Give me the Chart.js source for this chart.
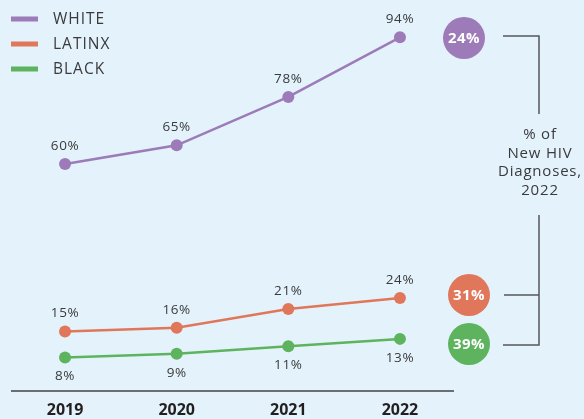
<!DOCTYPE html>
<html>
<head>
<meta charset="utf-8">
<script src="https://cdn.jsdelivr.net/npm/chart.js@4"></script>
<style>
  html, body { margin: 0; padding: 0; background: #e4f3fb; }
  #myChart { display: block; }
</style>
</head>
<body>
<canvas id="myChart" width="584" height="419"></canvas>
<script>
const years = [2019, 2020, 2021, 2022];
const seriesNames = ['WHITE', 'LATINX', 'BLACK'];
const whiteVals = [60, 65, 78, 94];
const latinxVals = [15, 16, 21, 24];
const blackVals = [8, 9, 11, 13];
const share2022 = ['24%', '31%', '39%'];
const sideNote = ['% of', 'New HIV', 'Diagnoses,', '2022'];

const colors = ['#9c7bb8', '#e0765a', '#5db35e'];
const textColor = '#3a3a3c';
const font = '"Open Sans", Lato, sans-serif';

const toPoints = vals => vals.map((v, i) => ({ x: years[i], y: v }));

// value labels: above for first two series, below for the last one
const valueLabels = {
    id: 'valueLabels',
    afterDatasetsDraw(chart) {
        const ctx = chart.ctx;
        ctx.save();
        ctx.font = '13.5px ' + font;
        ctx.letterSpacing = '0.6px';
        ctx.fillStyle = textColor;
        ctx.textAlign = 'center';
        ctx.textBaseline = 'middle';
        chart.data.datasets.forEach((ds, di) => {
            const meta = chart.getDatasetMeta(di);
            meta.data.forEach((pt, i) => {
                const off = di === 2 ? 19 : -18;
                ctx.fillText(ds.data[i].y + '%', pt.x, pt.y + off);
            });
        });
        ctx.restore();
    }
};

// legend top-left + share circles and bracket on the right
const extras = {
    id: 'extras',
    afterDraw(chart) {
        const ctx = chart.ctx;
        const ds = chart.data.datasets;
        ctx.save();
        // legend
        ctx.font = '15.5px ' + font;
        ctx.letterSpacing = '1px';
        ctx.textBaseline = 'middle';
        ctx.textAlign = 'left';
        ds.forEach((d, i) => {
            const y = 19 + i * 25;
            ctx.fillStyle = d.borderColor;
            ctx.fillRect(11, y - 2.5, 27, 5);
            ctx.fillStyle = textColor;
            ctx.fillText(d.label, 53, y + 1);
        });

        // circles next to 2022 values
        const cy = [38, 295, 344];
        const cx = [464, 469, 469];
        ctx.font = 'bold 15px ' + font;
        ctx.letterSpacing = '0.5px';
        ctx.textAlign = 'center';
        share2022.forEach((s, i) => {
            ctx.beginPath();
            ctx.arc(cx[i], cy[i], 21, 0, Math.PI * 2);
            ctx.fillStyle = ds[i].borderColor;
            ctx.fill();
            ctx.fillStyle = '#ffffff';
            ctx.fillText(s, cx[i], cy[i] + 1);
        });

        // bracket
        ctx.strokeStyle = '#55565a';
        ctx.lineWidth = 1.5;
        ctx.beginPath();
        ctx.moveTo(503, 36); ctx.lineTo(539, 36); ctx.lineTo(539, 114);
        ctx.moveTo(539, 215); ctx.lineTo(539, 345); ctx.lineTo(503, 345);
        ctx.moveTo(504, 295); ctx.lineTo(539, 295);
        ctx.stroke();

        ctx.font = '15px ' + font;
        ctx.letterSpacing = '0.8px';
        ctx.fillStyle = textColor;
        sideNote.forEach((t, i) => ctx.fillText(t, 540, 135 + i * 18.5));
        ctx.restore();
    }
};

const ctx = document.getElementById('myChart').getContext('2d');
const chart = new Chart(ctx, {
    type: 'line',
    data: {
        datasets: [whiteVals, latinxVals, blackVals].map((vals, i) => ({
            label: seriesNames[i],
            data: toPoints(vals),
            borderColor: colors[i],
            backgroundColor: colors[i],
            borderWidth: 2.5,
            pointRadius: 6,
            pointBorderWidth: 0,
            pointHoverRadius: 6,
            tension: 0
        }))
    },
    options: {
        responsive: false,
        animation: false,
        events: [],
        layout: { padding: { left: 12, right: 131, top: 15, bottom: 0 } },
        scales: {
            x: {
                type: 'linear',
                min: 2018.525,
                max: 2022.475,
                afterBuildTicks: s => { s.ticks = years.map(v => ({ value: v })); },
                afterFit: s => { s.height = 28; },
                grid: { display: false, drawTicks: false },
                border: { display: true, color: '#6d6e71', width: 2 },
                ticks: {
                    padding: 10,
                    color: '#231f20',
                    font: { family: font, size: 16, weight: 'bold' },
                    callback: v => String(v)
                }
            },
            y: {
                display: false,
                min: -1,
                max: 100
            }
        },
        plugins: {
            legend: { display: false },
            tooltip: { enabled: false }
        }
    },
    plugins: [valueLabels, extras]
});
</script>
</body>
</html>
